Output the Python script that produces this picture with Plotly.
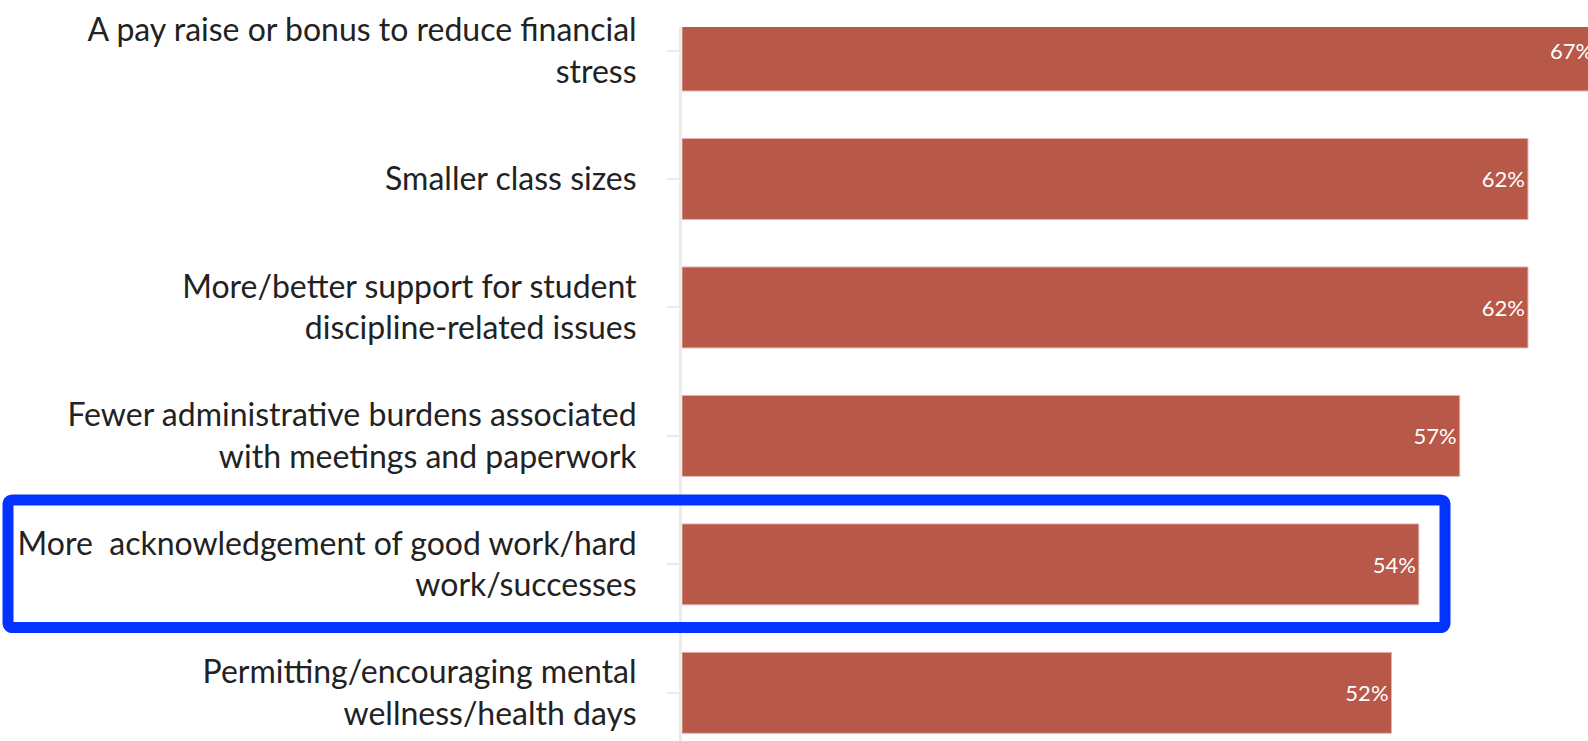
import plotly.graph_objects as go

categories = [
    "A pay raise or bonus to reduce financial<br>stress",
    "Smaller class sizes",
    "More/better support for student<br>discipline-related issues",
    "Fewer administrative burdens associated<br>with meetings and paperwork",
    "More  acknowledgement of good work/hard<br>work/successes",
    "Permitting/encouraging mental<br>wellness/health days",
]
values = [67, 62, 62, 57, 54, 52]
value_labels = [f"{v}%" for v in values]

W, H = 1588, 741
ML, MT = 682, 27
PW, PH = W - ML, H - MT

fig = go.Figure(go.Bar(
    x=values, y=categories, orientation="h",
    marker=dict(color="#b85849", line=dict(color="#e3b3aa", width=1)),
    width=0.63,
    text=value_labels, textposition="inside", insidetextanchor="end",
    textfont=dict(family="Lato", size=22, color="white"),
    cliponaxis=True,
))

def px2paper(px, py):
    return (px - ML) / PW, (H - py) / PH

def rounded_rect(x0, y0, x1, y1, r):
    def P(x, y):
        a, b = px2paper(x, y)
        return f"{a:.5f},{b:.5f}"
    return (f"M {P(x0+r, y0)} L {P(x1-r, y0)} Q {P(x1, y0)} {P(x1, y0+r)} "
            f"L {P(x1, y1-r)} Q {P(x1, y1)} {P(x1-r, y1)} L {P(x0+r, y1)} "
            f"Q {P(x0, y1)} {P(x0, y1-r)} L {P(x0, y0+r)} Q {P(x0, y0)} {P(x0+r, y0)} Z")

fig.add_shape(type="path", xref="paper", yref="paper",
              path=rounded_rect(8, 500, 1445, 627.5, 5),
              line=dict(color="#0433ff", width=11), fillcolor="rgba(0,0,0,0)")

fig.update_layout(
    width=W, height=H,
    margin=dict(l=ML, r=0, t=MT, b=0, pad=0, autoexpand=False),
    paper_bgcolor="white", plot_bgcolor="white",
    showlegend=False,
    font=dict(family="Lato", color="#222222"),
    xaxis=dict(range=[0, 66.4], showgrid=False, zeroline=False,
               showticklabels=False, ticks="", automargin=False),
    yaxis=dict(type="category", categoryarray=categories,
               range=[5.375, -0.183], showgrid=False, zeroline=False,
               showline=True, linecolor="#ebebeb", linewidth=3,
               ticks="outside", ticklen=12, tickwidth=2, tickcolor="#ebebeb",
               tickfont=dict(family="Lato", size=32, color="#222222"),
               ticklabelstandoff=24, automargin=False),
)

fig.write_html("out.html",
               config={"displayModeBar": False},
               post_script="document.body.style.margin='0';document.body.style.overflow='hidden';")
